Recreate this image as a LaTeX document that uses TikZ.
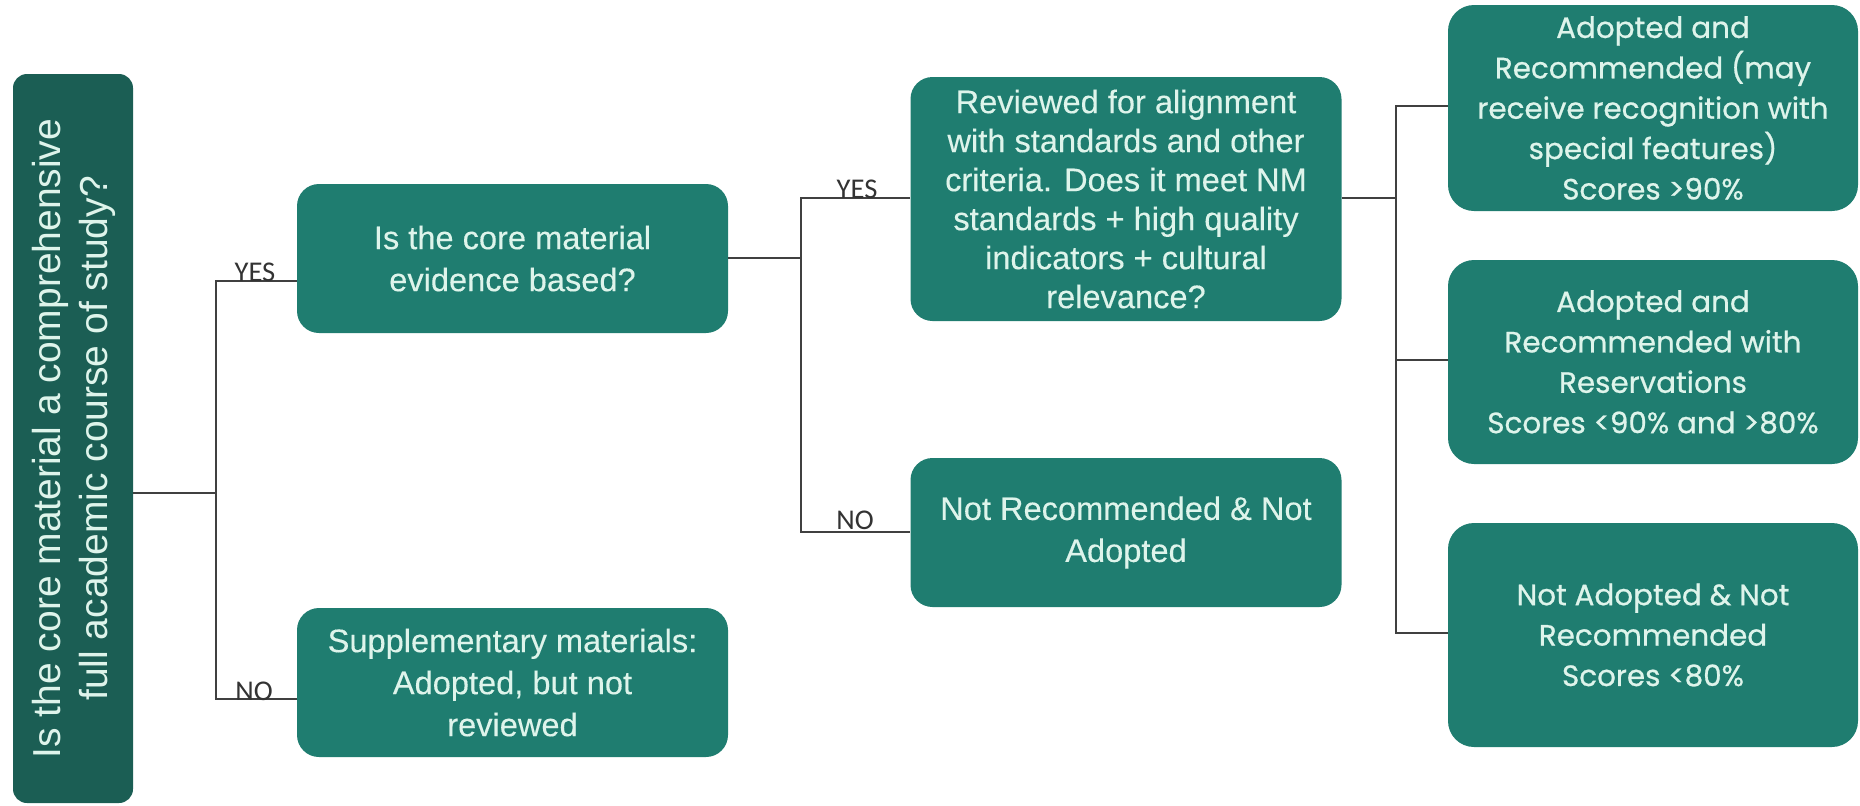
\documentclass[tikz,border=0pt]{standalone}
\usepackage{fontspec}
\setmainfont{Liberation Sans}[FakeBold=0.25]
\newfontfamily\plainfont{Liberation Sans}
\newfontfamily\rfont{Poppins}[FakeBold=0.7]
\newfontfamily\lfont{Carlito}
\definecolor{teal1}{RGB}{31,125,112}
\definecolor{teal0}{RGB}{27,94,84}
\definecolor{txt}{RGB}{222,244,235}
\definecolor{lin}{RGB}{64,64,64}
\begin{document}
\begin{tikzpicture}[x=0.5pt,y=-0.5pt,
  box/.style={rectangle, rounded corners=11pt, fill=teal1, text=txt, inner sep=0pt, align=center},
  midbox/.style={box, minimum width=215.5pt, minimum height=74.5pt, font=\fontsize{16.3}{21}\selectfont},
  rbox/.style={box, rounded corners=13pt, minimum width=205pt, font=\rfont\fontsize{14.7}{20.2}\selectfont},
  conn/.style={draw=lin, line width=1pt},
  lab/.style={font=\lfont\fontsize{14.3}{16}\selectfont, text=lin!80!black, inner sep=0pt, anchor=south}]
\useasboundingbox (0,0) rectangle (1860,805);

\node[box, fill=teal0, rounded corners=7pt, minimum width=60pt, minimum height=364.5pt] (lb) at (73,438.5) {};
\node[rotate=90, text=txt, align=center, inner sep=0pt, font=\plainfont\fontsize{19.5}{23.5}\selectfont] (lbt) at (73.5,438.5)
  {Is the core material a comprehensive\\full academic course of study?};

\node[midbox] (ev) at (512.5,258.5) {Is the core material\\evidence based?};
\node[midbox] (sup) at (512.5,682.5) {Supplementary materials:\\Adopted, but not\\reviewed};
\node[midbox, minimum height=122pt, font=\fontsize{16.3}{19.5}\selectfont] (rev) at (1126,199)
  {Reviewed for alignment\\with standards and other\\criteria. Does it meet NM\\standards + high quality\\indicators + cultural\\relevance?};
\node[midbox] (nr) at (1126,532.5) {Not Recommended \& Not\\Adopted};

\node[rbox, minimum height=103pt] (r1) at (1653,108)
  {Adopted and\\Recommended (may\\receive recognition with\\special features)\\Scores >90\%};
\node[rbox, minimum height=102pt] (r2) at (1653,362)
  {Adopted and\\Recommended with\\Reservations\\Scores <90\% and >80\%};
\node[rbox, minimum height=112pt] (r3) at (1653,635)
  {Not Adopted \& Not\\Recommended\\Scores <80\%};

\coordinate (j1) at (216,493);
\coordinate (j1y) at (216,281);
\coordinate (j1n) at (216,699);
\coordinate (j2) at (801,258);
\coordinate (j2y) at (801,198);
\coordinate (j2n) at (801,532);
\coordinate (j3) at (1396,198);
\coordinate (j3a) at (1396,106);
\coordinate (j3b) at (1396,360);
\coordinate (j3c) at (1396,633);

\draw[conn] (lb.east |- j1) -- (j1);
\draw[conn] (ev.west |- j1y) -- (j1y) -- (j1n) -- (sup.west |- j1n);
\draw[conn] (ev.east |- j2) -- (j2);
\draw[conn] (rev.west |- j2y) -- (j2y) -- (j2n) -- (nr.west |- j2n);
\draw[conn] (rev.east |- j3) -- (j3);
\draw[conn] (r1.west |- j3a) -- (j3a) -- (j3c) -- (r3.west |- j3c);
\draw[conn] (j3b) -- (r2.west |- j3b);

\node[lab] (y1) at (255,282) {YES};
\node[lab] (n1) at (254,701) {NO};
\node[lab] (y2) at (857,199) {YES};
\node[lab] (n2) at (855,530) {NO};
\end{tikzpicture}
\end{document}
